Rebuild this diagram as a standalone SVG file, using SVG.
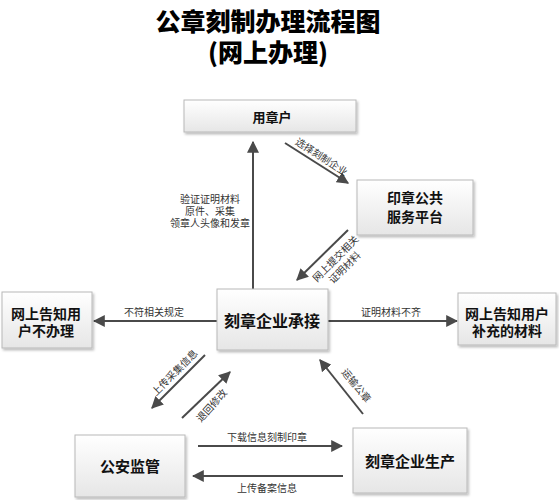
<svg xmlns="http://www.w3.org/2000/svg" width="559" height="500" viewBox="0 0 559 500">
<style>
.box{fill:url(#g);stroke:#b8b8b8;stroke-width:1;filter:url(#sh)}
.t{font-family:"Noto Sans CJK SC","Noto Sans",sans-serif;font-weight:bold;fill:#111;text-anchor:middle}
.title{font-family:"Noto Sans CJK SC","Noto Sans",sans-serif;font-weight:900;fill:#000;text-anchor:middle;font-size:25px}
.lb{font-family:"Noto Sans CJK SC","Noto Sans",sans-serif;fill:#333;font-size:10px;text-anchor:middle;dominant-baseline:central}
.ar{stroke:#4a4a4a;stroke-width:2;fill:none;marker-end:url(#ah)}
</style>
<defs>
<linearGradient id="g" x1="0" y1="0" x2="0" y2="1">
<stop offset="0" stop-color="#ffffff"/>
<stop offset="1" stop-color="#e6e6e6"/>
</linearGradient>
<filter id="sh" x="-10%" y="-10%" width="130%" height="140%">
<feDropShadow dx="1.5" dy="2" stdDeviation="1.2" flood-color="#000" flood-opacity="0.25"/>
</filter>
<marker id="ah" viewBox="0 0 10 10" refX="9" refY="5" markerWidth="6" markerHeight="6" orient="auto" markerUnits="strokeWidth">
<path d="M0,0 L10,5 L0,10 Z" fill="#4a4a4a"/>
</marker>
</defs>
<rect width="559" height="500" fill="#fff"/>
<g id="title">
<text class="title" x="268" y="31">公章刻制办理流程图</text>
<text class="title" x="268" y="62">(网上办理)</text>
</g>
<g id="connectors">
<line class="ar" x1="285" y1="143" x2="348" y2="183"/>
<line class="ar" x1="348" y1="230" x2="297" y2="280"/>
<line class="ar" x1="253" y1="289" x2="253" y2="142"/>
<line class="ar" x1="217" y1="321" x2="94" y2="321"/>
<line class="ar" x1="328" y1="321" x2="457" y2="321"/>
<line class="ar" x1="205" y1="355" x2="152" y2="408"/>
<line class="ar" x1="182" y1="418" x2="230" y2="372"/>
<line class="ar" x1="363" y1="414" x2="320" y2="360"/>
<line class="ar" x1="198" y1="446" x2="342" y2="446"/>
<line class="ar" x1="343" y1="476" x2="193" y2="476"/>
<text class="lb" transform="translate(322,156) rotate(33)">选择刻制企业</text>
<text class="lb" transform="translate(335,258) rotate(-45)">网上提交相关</text>
<text class="lb" transform="translate(344,267) rotate(-45)">证明材料</text>
<text class="lb" x="210" y="198">验证证明材料</text>
<text class="lb" x="210" y="210">原件、采集</text>
<text class="lb" x="210" y="222">领章人头像和发章</text>
<text class="lb" x="154" y="311">不符相关规定</text>
<text class="lb" x="391" y="311">证明材料不齐</text>
<text class="lb" transform="translate(174,372) rotate(-45)">上传采集信息</text>
<text class="lb" transform="translate(211,405) rotate(-48)">退回修改</text>
<text class="lb" transform="translate(357,385) rotate(51)">运输公章</text>
<text class="lb" x="267" y="436">下载信息刻制印章</text>
<text class="lb" x="267" y="487">上传备案信息</text>
</g>
<g id="n-user">
<rect class="box" x="184" y="100" width="172" height="32"/>
<text class="t" x="272" y="122" font-size="13">用章户</text>
</g>
<g id="n-platform">
<rect class="box" x="357" y="180" width="116" height="55"/>
<text class="t" x="415" y="203" font-size="14">印章公共</text>
<text class="t" x="415" y="222" font-size="14">服务平台</text>
</g>
<g id="n-refuse">
<rect class="box" x="2" y="292" width="90" height="56"/>
<text class="t" x="46" y="319" font-size="14">网上告知用</text>
<text class="t" x="46" y="336" font-size="14">户不办理</text>
</g>
<g id="n-accept">
<rect class="box" x="217" y="289" width="111" height="61"/>
<text class="t" x="272" y="327" font-size="16">刻章企业承接</text>
</g>
<g id="n-supplement">
<rect class="box" x="458" y="293" width="98" height="52"/>
<text class="t" x="507" y="319" font-size="14">网上告知用户</text>
<text class="t" x="507" y="336" font-size="14">补充的材料</text>
</g>
<g id="n-police">
<rect class="box" x="75" y="435" width="110" height="62"/>
<text class="t" x="130" y="472" font-size="15">公安监管</text>
</g>
<g id="n-produce">
<rect class="box" x="353" y="428" width="114" height="65"/>
<text class="t" x="410" y="467" font-size="15">刻章企业生产</text>
</g>
</svg>
